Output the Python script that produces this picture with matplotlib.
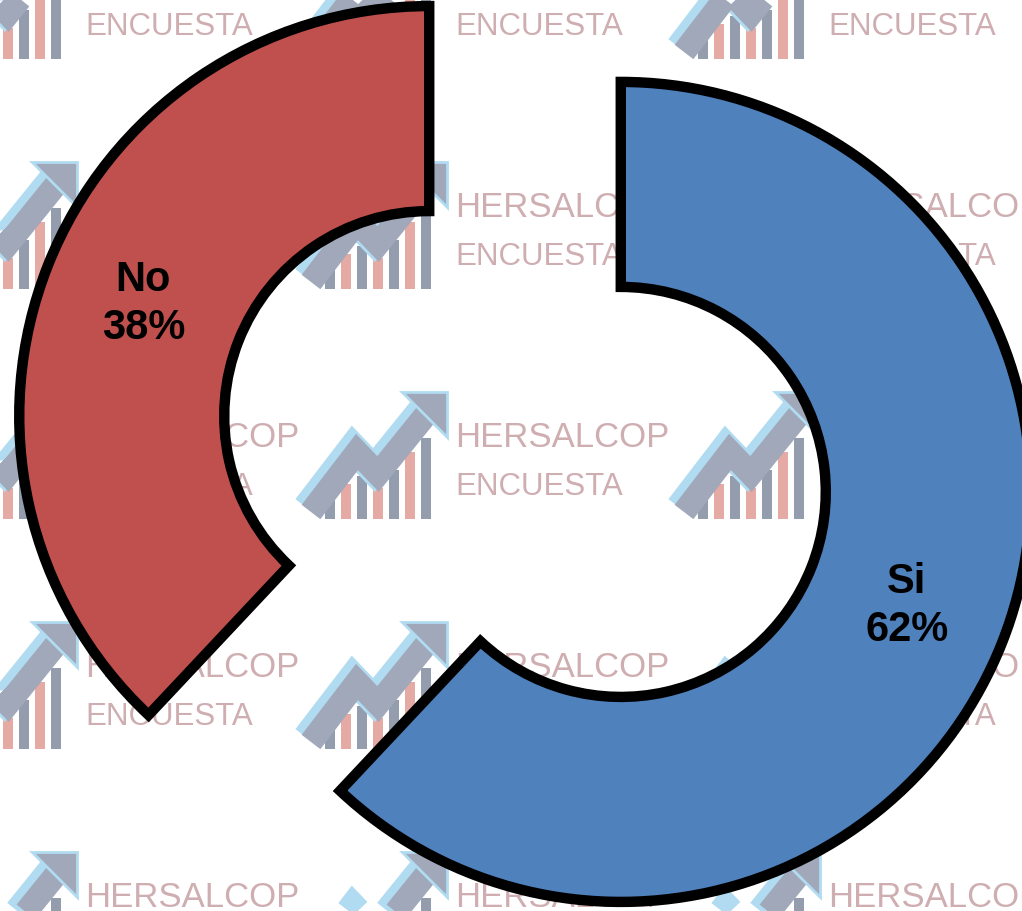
import matplotlib.pyplot as plt
from matplotlib.patches import Rectangle, Polygon

# Survey answers
categories = ["Si", "No"]
percentages = [62, 38]
colors = ["#4F81BD", "#C0504D"]

# Watermark tile grid (top-left corners in image pixels)
tile_cols = [-63, 307, 680]
tile_rows = [-67, 163, 393, 623, 853]
brand_line1 = "HERSALCOP"
brand_line2 = "ENCUESTA"

# Logo icon pieces, relative to tile corner (pixels, y down)
bar_lefts = [18, 34, 50, 66, 82, 98, 114]
bar_tops = [108, 92, 84, 96, 78, 60, 46]
bar_colors = ["#939DAE", "#E4AAA3"]
arrow_x = [4, 50, 71, 126]
arrow_y = [120, 60, 82, 14]

W, H = 1022, 912

fig = plt.figure(figsize=(W / 100, H / 100), dpi=100)
ax = fig.add_axes([0, 0, 1, 1])


def draw_logo(x0, y0):
    # bars
    for i, (bl, bt) in enumerate(zip(bar_lefts, bar_tops)):
        ax.add_patch(Rectangle((x0 + bl, H - (y0 + 127)), 10, 127 - bt,
                               facecolor=bar_colors[i % 2], edgecolor="none", zorder=1))
    # arrow: light blue outline then grey shaft
    xs = [x0 + v for v in arrow_x]
    ys = [H - (y0 + v) for v in arrow_y]
    ax.plot([x - 4 for x in xs], [y + 4 for y in ys], color="#B0DBF0", lw=21,
            solid_capstyle="butt", solid_joinstyle="miter", zorder=2)
    ax.plot(xs, ys, color="#A0A8BA", lw=17, solid_capstyle="butt",
            solid_joinstyle="miter", zorder=3)
    head = [(x0 + 95, H - y0), (x0 + 140, H - y0), (x0 + 140, H - (y0 + 45))]
    ax.add_patch(Polygon(head, closed=True, facecolor="#A0A8BA",
                         edgecolor="#B0DBF0", lw=2, zorder=3))
    # brand text
    ax.text(x0 + 148, H - (y0 + 54), brand_line1, fontsize=25, color="#CFAEB2",
            family="Liberation Sans", va="baseline", ha="left", zorder=2)
    ax.text(x0 + 148, H - (y0 + 102), brand_line2, fontsize=22.5, color="#CFAEB2",
            family="Liberation Sans", va="baseline", ha="left", zorder=2)


for ty in tile_rows:
    for tx in tile_cols:
        draw_logo(tx, ty)

labels = [f"{c}\n{p}%" for c, p in zip(categories, percentages)]
wedges, texts = ax.pie(
    percentages,
    labels=labels,
    colors=colors,
    startangle=90,
    counterclock=False,
    explode=[103, 103],
    radius=410,
    center=(525, 457),
    labeldistance=0.75,
    wedgeprops=dict(width=205, edgecolor="black", linewidth=7.5),
    textprops=dict(fontsize=30, fontweight="bold", ha="center", va="center",
                   family="Liberation Sans", linespacing=1.25),
)
for w in wedges:
    w.set_zorder(5)
for t in texts:
    t.set_zorder(6)

ax.set_xlim(0, W)
ax.set_ylim(0, H)
ax.set_aspect("equal")
ax.axis("off")

plt.savefig("out.png", dpi=100)
